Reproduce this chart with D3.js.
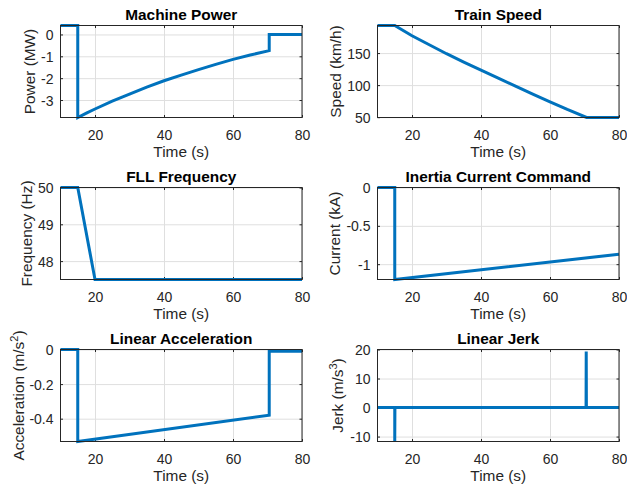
<!DOCTYPE html>
<html>
<head>
<meta charset="utf-8">
<script src="https://cdn.jsdelivr.net/npm/d3@7"></script>
<style>
  html, body { margin: 0; padding: 0; background: #fff; }
  svg { display: block; font-family: "Liberation Sans", Arial, sans-serif; }
</style>
</head>
<body>
<svg id="fig" width="627" height="491"></svg>
<script>
// Shared time axis
const timeDomain = [10, 80];
const timeTicks = [20, 40, 60, 80];

// Machine power (MW)
const powerTime = [10, 15, 15, 17.5, 20, 25, 30, 35, 40, 45, 50, 55, 60, 65, 70.5, 70.5, 80];
const powerMW   = [0.41, 0.41, -3.8, -3.6, -3.41, -3.05, -2.73, -2.41, -2.12, -1.86, -1.61, -1.37, -1.14, -0.94, -0.74, 0, 0];
const powerTicks = [-3, -2, -1, 0];

// Train speed (km/h)
const speedTime = [10, 15, 20, 25, 30, 35, 40, 45, 50, 55, 60, 65, 70.6, 80];
const speedKmh  = [193, 193, 177, 163, 149, 136, 123.5, 111, 98.5, 86, 74, 62, 49.5, 49.5];
const speedTicks = [50, 100, 150];

// FLL frequency (Hz)
const freqTime = [10, 15, 20, 80];
const freqHz   = [50, 50, 47.5, 47.5];
const freqTicks = [48, 49, 50];

// Inertia current command (kA)
const currentTime = [10, 15, 15, 80];
const currentKA   = [0, 0, -1.2, -0.87];
const currentTicks = [-1, -0.5, 0];

// Linear acceleration (m/s^2)
const accelTime = [10, 15, 15, 70.5, 70.5, 80];
const accelMs2  = [0, 0, -0.532, -0.38, -0.01, -0.01];
const accelTicks = [-0.4, -0.2, 0];

// Linear jerk (m/s^3)
const jerkTime = [10, 15, 15, 15.05, 16.55, 16.6, 16.65, 17.45, 17.5, 17.55, 18.45, 18.5, 18.55,
                  20.85, 20.9, 20.95, 22.35, 22.4, 22.45, 25.15, 25.2, 25.25, 26.15, 26.2, 26.25,
                  27.15, 27.2, 27.25, 28.05, 28.1, 28.15, 29.05, 29.1, 29.15, 30.05, 30.1, 30.15,
                  31.95, 32, 32.05, 38.25, 38.3, 38.35, 39.25, 39.3, 39.35, 70.45, 70.5, 70.55, 80];
const jerkMs3  = [0, 0, -11.7, 0, 0, 0.45, 0, 0, 0.45, 0, 0, 0.45, 0,
                  0, 0.45, 0, 0, 0.45, 0, 0, 0.45, 0, 0, 0.45, 0,
                  0, 0.45, 0, 0, 0.45, 0, 0, 0.45, 0, 0, 0.45, 0,
                  0, 0.45, 0, 0, 0.45, 0, 0, 0.45, 0, 0, 19.3, 0, 0];
const jerkTicks = [-10, 0, 10, 20];

const panels = [
  { title: "Machine Power", ylabel: ["Power (MW)"], t: powerTime, v: powerMW, yDomain: [-3.8, 0.41], yTicks: powerTicks, col: 0, row: 0, labelX: 35 },
  { title: "Train Speed", ylabel: ["Speed (km/h)"], t: speedTime, v: speedKmh, yDomain: [49.5, 193], yTicks: speedTicks, col: 1, row: 0, labelX: 341 },
  { title: "FLL Frequency", ylabel: ["Frequency (Hz)"], t: freqTime, v: freqHz, yDomain: [47.5, 50], yTicks: freqTicks, col: 0, row: 1, labelX: 32 },
  { title: "Inertia Current Command", ylabel: ["Current (kA)"], t: currentTime, v: currentKA, yDomain: [-1.2, 0], yTicks: currentTicks, col: 1, row: 1, labelX: 340 },
  { title: "Linear Acceleration", ylabel: ["Acceleration (m/s", "2", ")"], t: accelTime, v: accelMs2, yDomain: [-0.532, 0], yTicks: accelTicks, col: 0, row: 2, labelX: 24 },
  { title: "Linear Jerk", ylabel: ["Jerk (m/s", "3", ")"], t: jerkTime, v: jerkMs3, yDomain: [-11.7, 20], yTicks: jerkTicks, col: 1, row: 2, labelX: 343 }
];

const colLeft = [60.5, 377.5];
const rowTop = [25.5, 187.5, 349.5];
const W = 241.5, H = 92;
const lineColor = "#0072BD";
const axisColor = "#262626";
const gridColor = "#dfdfdf";
const tickFont = 14, labelFont = 15.4;

const svg = d3.select("#fig");

panels.forEach(p => {
  const x0 = colLeft[p.col], y0 = rowTop[p.row];
  const g = svg.append("g").attr("transform", `translate(${x0},${y0})`);
  const x = d3.scaleLinear().domain(timeDomain).range([0, W]);
  const y = d3.scaleLinear().domain(p.yDomain).range([H, 0]);

  // grid
  g.append("g").attr("transform", `translate(0,${H})`)
    .call(d3.axisBottom(x).tickValues(timeTicks).tickSize(-H).tickFormat(""))
    .call(s => s.select(".domain").remove())
    .call(s => s.selectAll("line").attr("stroke", gridColor));
  g.append("g")
    .call(d3.axisLeft(y).tickValues(p.yTicks).tickSize(-W).tickFormat(""))
    .call(s => s.select(".domain").remove())
    .call(s => s.selectAll("line").attr("stroke", gridColor));

  // bottom axis with labels
  g.append("g").attr("transform", `translate(0,${H})`)
    .call(d3.axisBottom(x).tickValues(timeTicks).tickSizeInner(-2.5).tickSizeOuter(0).tickPadding(0))
    .call(s => s.select(".domain").remove())
    .call(s => s.selectAll("line").attr("stroke", axisColor))
    .call(s => s.selectAll("text").attr("y", 22.5).attr("dy", null)
      .attr("fill", axisColor).attr("font-size", tickFont).attr("font-family", null));
  // left axis with labels
  g.append("g")
    .call(d3.axisLeft(y).tickValues(p.yTicks).tickSizeInner(-2.5).tickSizeOuter(0).tickPadding(7).tickFormat(d => String(d)))
    .call(s => s.select(".domain").remove())
    .call(s => s.selectAll("line").attr("stroke", axisColor))
    .call(s => s.selectAll("text").attr("dy", "0.36em")
      .attr("fill", axisColor).attr("font-size", tickFont).attr("font-family", null));
  // mirrored ticks on top and right
  g.append("g")
    .call(d3.axisTop(x).tickValues(timeTicks).tickSizeInner(-2.5).tickSizeOuter(0).tickFormat(""))
    .call(s => s.select(".domain").remove())
    .call(s => s.selectAll("line").attr("stroke", axisColor));
  g.append("g").attr("transform", `translate(${W},0)`)
    .call(d3.axisRight(y).tickValues(p.yTicks).tickSizeInner(-2.5).tickSizeOuter(0).tickFormat(""))
    .call(s => s.select(".domain").remove())
    .call(s => s.selectAll("line").attr("stroke", axisColor));

  // data line
  const pts = p.t.map((t, i) => [t, p.v[i]]);
  g.append("path")
    .datum(pts)
    .attr("fill", "none")
    .attr("stroke", lineColor)
    .attr("stroke-width", 3)
    .attr("stroke-linejoin", "miter")
    .attr("d", d3.line().x(d => x(d[0])).y(d => y(d[1])));

  // axes box
  g.append("rect").attr("x", 0).attr("y", 0).attr("width", W).attr("height", H)
    .attr("fill", "none").attr("stroke", axisColor).attr("stroke-width", 1);

  // title
  g.append("text").attr("x", W / 2).attr("y", -6)
    .attr("text-anchor", "middle").attr("font-weight", "bold")
    .attr("font-size", labelFont).attr("fill", "#000").text(p.title);

  // x label
  g.append("text").attr("x", W / 2).attr("y", H + 39)
    .attr("text-anchor", "middle").attr("font-size", labelFont)
    .attr("fill", axisColor).text("Time (s)");

  // y label (rotated)
  const yl = svg.append("text")
    .attr("transform", `translate(${p.labelX},${y0 + H / 2}) rotate(-90)`)
    .attr("text-anchor", "middle").attr("font-size", labelFont).attr("fill", axisColor);
  yl.append("tspan").text(p.ylabel[0]);
  if (p.ylabel.length > 1) {
    yl.append("tspan").attr("dy", -6).attr("font-size", 11).text(p.ylabel[1]);
    yl.append("tspan").attr("dy", 6).text(p.ylabel[2]);
  }
});
</script>
</body>
</html>
